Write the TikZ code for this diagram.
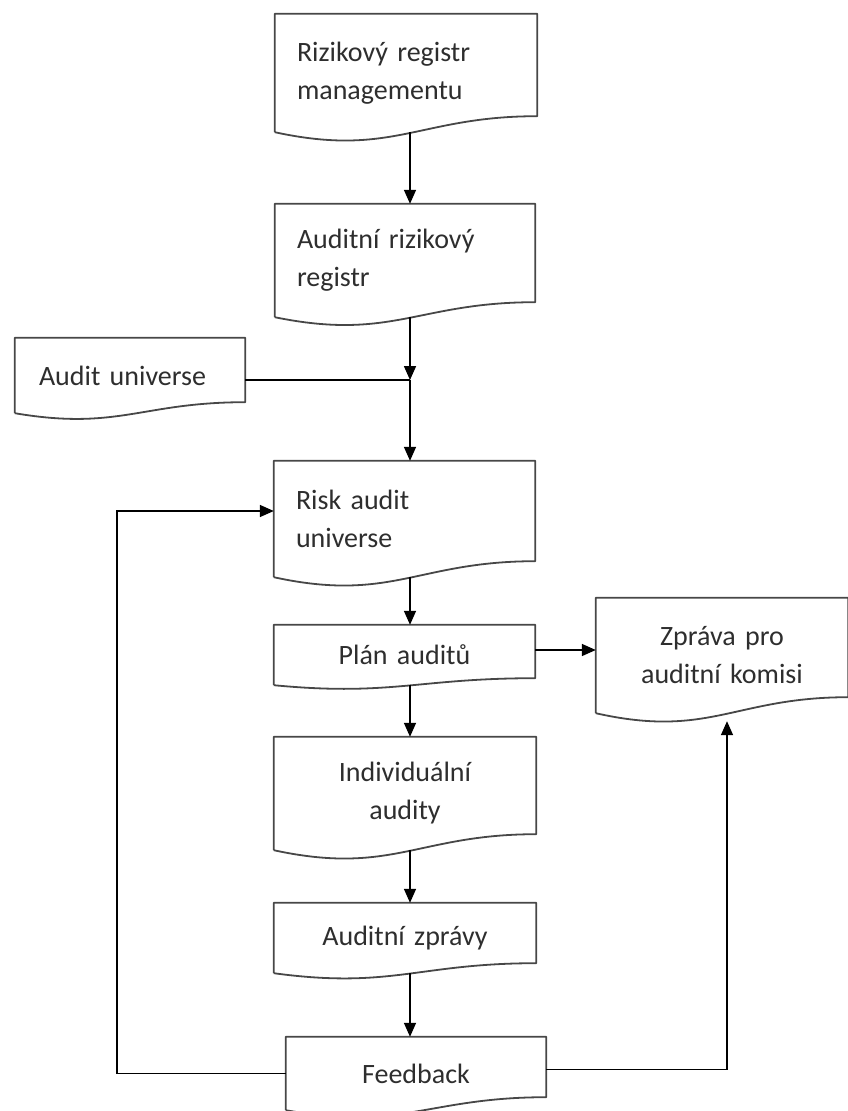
\documentclass[tikz,border=0pt]{standalone}
\usepackage{fontspec}
\setmainfont{Carlito}
\usetikzlibrary{calc,arrows.meta}

\newcommand{\docfont}{\fontsize{28}{38}\selectfont\fontdimen2\font=3.2pt\fontdimen3\font=0.8pt\fontdimen4\font=0.8pt\relax}

\tikzset{
  doc/.style={minimum height=#1,inner xsep=22pt,inner ysep=0pt,text=black!82,font=\docfont},
  docline/.style={draw=black!72,line width=1.8pt,line join=round},
  flow/.style={-{Triangle[length=14pt,width=12pt]},line width=1.6pt}
}

\newcommand{\docshape}[2]{%
  \draw[docline] (#1.south west) -- (#1.north west) -- (#1.north east) -- ([yshift=#2pt]#1.south east)
    .. controls ($(#1.south west)!0.55!(#1.south east)+(0,#2pt)$)
    and ($(#1.south west)!0.45!(#1.south east)+(0,-1.6*#2pt)$) .. (#1.south west);}

\begin{document}
\begin{tikzpicture}[x=1pt,y=-1pt]
      \useasboundingbox (0,0) rectangle (848,1111);
      \node[doc=118pt,text width=218pt,align=left] (rrm) at (406,73) {Rizikový registr\\managementu};
      \node[doc=113pt,text width=216pt,align=left] (arr) at (405,260.5) {Auditní rizikový\\registr};
      \node[doc=75pt,inner xsep=24pt,text width=182pt,align=left] (au) at (130,375.5) {Audit universe};
      \node[doc=116pt,text width=217pt,align=left] (rau) at (404.5,519) {Risk audit\\universe};
      \node[doc=60pt,text width=217pt,align=center] (pa) at (404.5,655) {Plán auditů};
      \node[doc=113pt,text width=218pt,align=center] (ia) at (405,793.5) {Individuální\\audity};
      \node[doc=70pt,text width=218pt,align=center] (az) at (405,938) {Auditní zprávy};
      \node[doc=73pt,text width=216pt,align=center] (fb) at (416,1073.5) {Feedback};
      \node[doc=115pt,text width=208pt,align=center] (zak) at (722,655.5) {Zpráva pro\\auditní komisi};
      \docshape{rrm}{16}
      \docshape{arr}{15}
      \docshape{au}{11}
      \docshape{rau}{16}
      \docshape{pa}{7}
      \docshape{ia}{16}
      \docshape{az}{10}
      \docshape{fb}{13}
      \docshape{zak}{16}
      \coordinate (col) at (410,0);
      \coordinate (join) at (410,380);
      \coordinate (loop) at (117,800);
      \coordinate (up) at (727,800);
      \draw[flow] (rrm.south -| col) -- (arr.north -| col);
      \draw[flow] (arr.south -| col) -- (join);
      \draw[line width=1.6pt] (au.east |- join) -- (join);
      \draw[flow] (join) -- (rau.north -| col);
      \draw[flow] (rau.south -| col) -- (pa.north -| col);
      \draw[flow] ([yshift=5pt]pa.east) -- ([yshift=5pt]pa.east -| zak.west);
      \draw[flow] (pa.south -| col) -- (ia.north -| col);
      \draw[flow] (ia.south -| col) -- (az.north -| col);
      \draw[flow] (az.south -| col) -- (fb.north -| col);
      \draw[flow] (fb.west) -| (loop) |- ([yshift=8pt]rau.west);
      \draw[flow,shorten >=8pt] ([yshift=4pt]fb.east) -| (up) -- (zak.south -| up);
    \end{tikzpicture}
\end{document}
